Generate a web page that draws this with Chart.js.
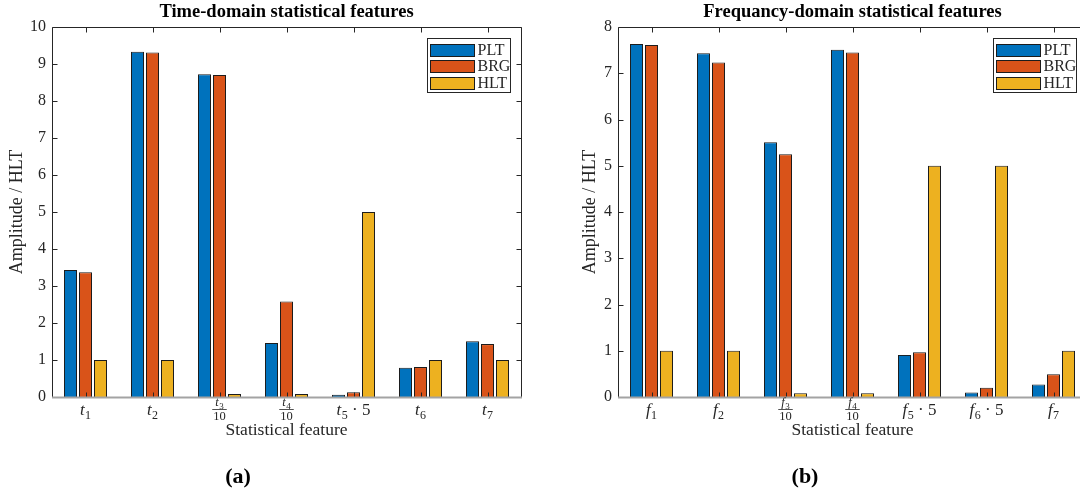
<!DOCTYPE html>
<html>
<head>
<meta charset="utf-8">
<script src="https://cdn.jsdelivr.net/npm/chart.js@4.4.1/dist/chart.umd.min.js"></script>
<style>
  html, body { margin: 0; padding: 0; background: #fff; overflow: hidden; width: 1080px; height: 494px; }
  #wrap { position: relative; width: 1080px; height: 494px; overflow: hidden; }
  .pane { position: absolute; top: 0; height: 494px; }
  .cap { position: absolute; top: 463px; font: bold 22px "Liberation Serif", serif; color: #000; transform: translateX(-50%); }
</style>
</head>
<body>
<div id="wrap">
  <div class="pane" style="left:0;width:540px"><canvas id="cTime" width="540" height="494"></canvas></div>
  <div class="pane" style="left:540px;width:560px"><canvas id="cFreq" width="560" height="494"></canvas></div>
  <div class="cap" style="left:238px">(a)</div>
  <div class="cap" style="left:805px">(b)</div>
</div>
<script>
// ---- data ----
const seriesNames  = ['PLT', 'BRG', 'HLT'];
const seriesColors = ['#0072BD', '#D95319', '#EDB120'];

const timeLabels = ['t_1', 't_2', 't_3/10', 't_4/10', 't_5·5', 't_6', 't_7'];
const timePLT = [3.43, 9.33, 8.72, 1.46, 0.06, 0.79, 1.51];
const timeBRG = [3.37, 9.31, 8.70, 2.58, 0.13, 0.81, 1.43];
const timeHLT = [1.00, 1.00, 0.08, 0.08, 5.00, 1.00, 1.00];

const freqLabels = ['f_1', 'f_2', 'f_3/10', 'f_4/10', 'f_5·5', 'f_6·5', 'f_7'];
const freqPLT = [7.63, 7.43, 5.51, 7.51, 0.91, 0.10, 0.27];
const freqBRG = [7.61, 7.23, 5.25, 7.45, 0.97, 0.20, 0.49];
const freqHLT = [1.00, 1.00, 0.08, 0.08, 5.00, 5.00, 1.00];

const timeTicks = [0, 1, 2, 3, 4, 5, 6, 7, 8, 9, 10];
const freqTicks = [0, 1, 2, 3, 4, 5, 6, 7, 8];

// ---- styling ----
const FAMILY = '"Liberation Serif", "DejaVu Serif", serif';
const AXIS = '#262626';

// Renders a feature label such as t_3/10 (fraction) or t_5·5 (product) under a tick.
function drawFeatureLabel(ctx, label, cx) {
  const m = label.match(/^([a-z])_(\d)(.*)$/);
  if (!m) return;
  const [, sym, idx, rest] = m;
  ctx.fillStyle = AXIS;
  ctx.textBaseline = 'alphabetic';
  ctx.textAlign = 'left';
  if (rest === '/10') {
    const fSym = 'italic 12.5px ' + FAMILY, fIdx = '9px ' + FAMILY, fDen = '12.5px ' + FAMILY;
    ctx.font = fSym; const wS = ctx.measureText(sym).width;
    ctx.font = fIdx; const wI = ctx.measureText(idx).width;
    ctx.font = fDen; const wD = ctx.measureText('10').width;
    const wN = wS + wI + 0.5;
    const x0 = cx - wN / 2;
    ctx.font = fSym; ctx.fillText(sym, x0, 406);
    ctx.font = fIdx; ctx.fillText(idx, x0 + wS + 0.5, 408.5);
    const w = Math.max(wN, wD) + 2;
    ctx.strokeStyle = AXIS; ctx.lineWidth = 0.8;
    ctx.beginPath(); ctx.moveTo(cx - w / 2, 409.5); ctx.lineTo(cx + w / 2, 409.5); ctx.stroke();
    ctx.font = fDen; ctx.fillText('10', cx - wD / 2, 420);
  } else {
    const fSym = 'italic 17px ' + FAMILY, fIdx = '12px ' + FAMILY, fRest = '17px ' + FAMILY;
    const tail = rest ? ' \u00b7 ' + rest.replace('·', '') : '';
    ctx.font = fSym; const wS = ctx.measureText(sym).width;
    ctx.font = fIdx; const wI = ctx.measureText(idx).width;
    ctx.font = fRest; const wR = tail ? ctx.measureText(tail).width : 0;
    const total = wS + 0.5 + wI + wR;
    let x = cx - total / 2;
    ctx.font = fSym; ctx.fillText(sym, x, 415); x += wS + 0.5;
    ctx.font = fIdx; ctx.fillText(idx, x, 419); x += wI;
    if (tail) { ctx.font = fRest; ctx.fillText(tail, x, 415); }
  }
}

// Boxed axes with inward ticks, bar baseline, feature labels and a boxed legend.
const matlabAxes = {
  id: 'matlabAxes',
  afterDatasetsDraw(chart, args, opts) {
    const { ctx, chartArea: a, scales: { x, y } } = chart;
    const L = Math.round(a.left) + 0.5, R = Math.round(a.right) + 0.5;
    const T = Math.round(a.top) + 0.5, B = Math.round(a.bottom) + 0.5;
    const tl = 5;
    ctx.save();
    ctx.strokeStyle = AXIS; ctx.lineWidth = 1;
    ctx.beginPath();
    ctx.moveTo(L, B); ctx.lineTo(L, T); ctx.lineTo(R, T); ctx.lineTo(R, B);
    // y ticks on both sides
    y.ticks.forEach(t => {
      const py = Math.round(y.getPixelForValue(t.value)) + 0.5;
      ctx.moveTo(L, py); ctx.lineTo(L + tl, py);
      ctx.moveTo(R, py); ctx.lineTo(R - tl, py);
    });
    // x ticks on top and bottom
    x.ticks.forEach((t, i) => {
      const px = Math.round(x.getPixelForTick(i)) + 0.5;
      ctx.moveTo(px, T); ctx.lineTo(px, T + tl);
      ctx.moveTo(px, B); ctx.lineTo(px, B - tl);
    });
    ctx.stroke();
    // bar baseline
    ctx.strokeStyle = '#a3a3a3'; ctx.lineWidth = 2;
    ctx.beginPath(); ctx.moveTo(a.left, B); ctx.lineTo(a.right + 1, B); ctx.stroke();

    // category labels
    opts.labels.forEach((lab, i) => drawFeatureLabel(ctx, lab, x.getPixelForTick(i)));

    // legend box
    const bw = 83, bh = 54;
    const bx = Math.round(a.right - 11 - bw) + 0.5, by = Math.round(a.top + 11) + 0.5;
    ctx.fillStyle = '#fff';
    ctx.fillRect(bx, by, bw, bh);
    ctx.strokeStyle = AXIS; ctx.lineWidth = 1;
    ctx.strokeRect(bx, by, bw, bh);
    ctx.font = '16px ' + FAMILY;
    ctx.textBaseline = 'middle'; ctx.textAlign = 'left';
    chart.data.datasets.forEach((ds, i) => {
      const cy = by + 11 + i * 16.5;
      ctx.fillStyle = ds.backgroundColor;
      ctx.fillRect(bx + 3, Math.round(cy - 6) + 0.5, 44, 12);
      ctx.strokeStyle = '#1c1c1c';
      ctx.strokeRect(bx + 3, Math.round(cy - 6) + 0.5, 44, 12);
      ctx.fillStyle = AXIS;
      ctx.fillText(ds.label, bx + 50, cy + 1);
    });
    ctx.restore();
  }
};

function makeChart(id, title, labels, values, ticks, pad, yWidth) {
  const datasets = seriesNames.map((name, i) => ({
    label: name,
    data: values[i],
    backgroundColor: seriesColors[i],
    borderColor: '#1c1c1c',
    borderWidth: 1,
    categoryPercentage: 0.672,
    barPercentage: 0.867
  }));
  return new Chart(document.getElementById(id), {
    type: 'bar',
    data: { labels: labels, datasets: datasets },
    plugins: [matlabAxes],
    options: {
      responsive: false,
      animation: false,
      devicePixelRatio: 1,
      layout: { padding: pad },
      plugins: {
        legend: { display: false },
        tooltip: { enabled: false },
        title: {
          display: true, text: title, fullSize: false, color: '#000',
          font: { family: FAMILY, size: 18.5, weight: 'bold', lineHeight: 1.0 },
          padding: { top: 3, bottom: 5.5 }
        },
        matlabAxes: { labels: labels }
      },
      scales: {
        x: {
          type: 'category', offset: true,
          grid: { display: false, drawTicks: false },
          border: { display: false },
          ticks: { display: false },
          title: {
            display: true, text: 'Statistical feature', color: AXIS,
            font: { family: FAMILY, size: 17.5, lineHeight: 1.0 },
            padding: { top: 0, bottom: 3 }
          },
          afterFit: s => { s.height = 45; }
        },
        y: {
          min: ticks[0], max: ticks[ticks.length - 1],
          afterBuildTicks: s => { s.ticks = ticks.map(v => ({ value: v })); },
          grid: { display: false, drawTicks: false },
          border: { display: false },
          ticks: { padding: 6, color: AXIS, font: { family: FAMILY, size: 16 } },
          title: {
            display: true, text: 'Amplitude / HLT', color: AXIS,
            font: { family: FAMILY, size: 18, lineHeight: 1.0 },
            padding: { top: 8, bottom: 0 }
          },
          afterFit: s => { s.width = yWidth; }
        }
      }
    }
  });
}

makeChart('cTime', 'Time-domain statistical features', timeLabels,
  [timePLT, timeBRG, timeHLT], timeTicks,
  { left: 0, right: 19, top: 0, bottom: 52 }, 52);

makeChart('cFreq', 'Frequancy-domain statistical features', freqLabels,
  [freqPLT, freqBRG, freqHLT], freqTicks,
  { left: 33, right: 13, top: 0, bottom: 52 }, 45);
</script>
</body>
</html>
